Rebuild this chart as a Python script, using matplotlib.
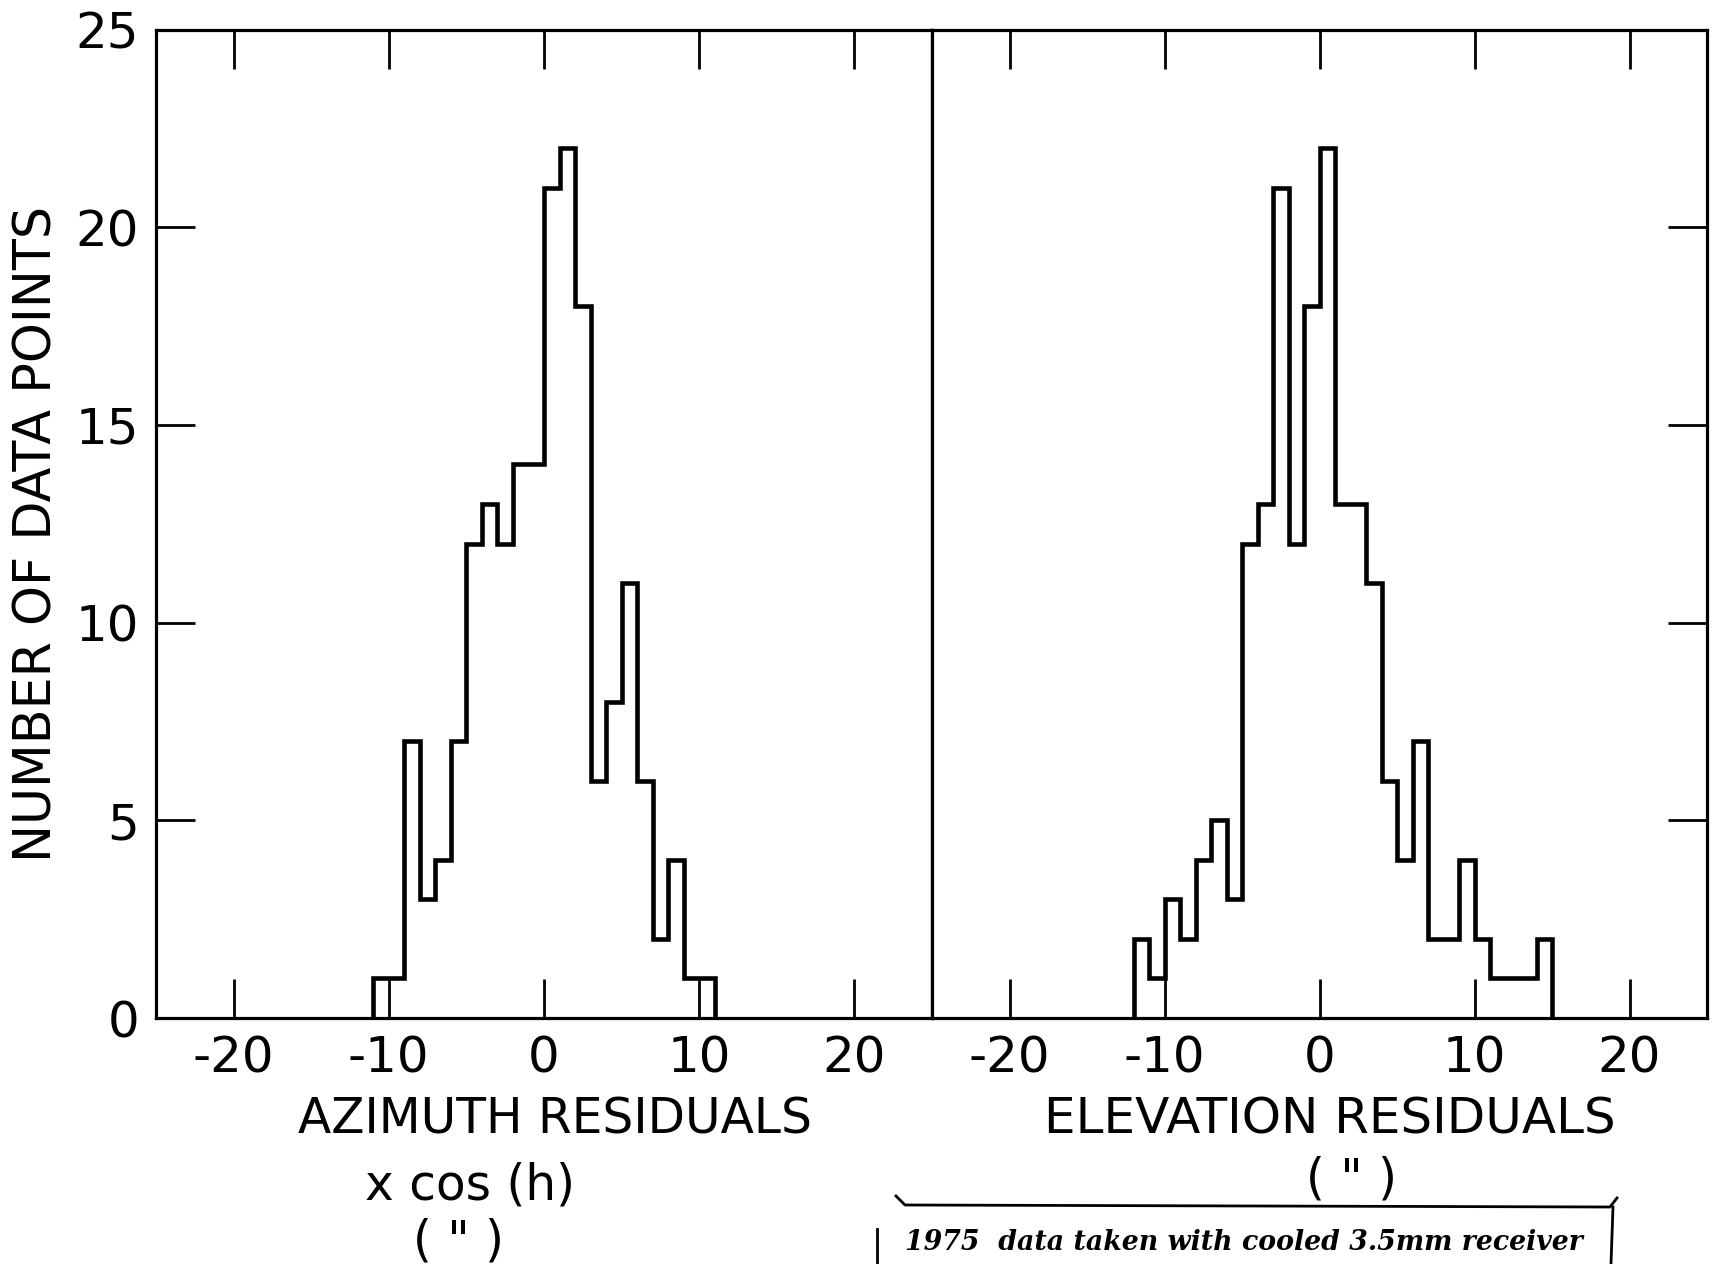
import numpy as np
import matplotlib
matplotlib.use("Agg")
import matplotlib.pyplot as plt
from matplotlib.lines import Line2D

# ---- data (counts per 1-arcsec bin) ----
az_edges = np.arange(-11, 12)          # -11 .. 11
az_counts = [1, 1, 7, 3, 4, 7, 12, 13, 12, 14, 14, 21, 22, 18, 6, 8, 11, 6, 2, 4, 1, 1]
el_edges = np.arange(-12, 16)          # -12 .. 15
el_counts = [2, 1, 3, 2, 4, 5, 3, 12, 13, 21, 12, 18, 22, 13, 13, 11, 6, 4, 7, 2, 2, 4, 2, 1, 1, 1, 2]

x_ticks = [-20, -10, 0, 10, 20]
x_tick_labels = ["-20", "-10", "0", "10", "20"]
y_ticks = [0, 5, 10, 15, 20, 25]
y_tick_labels = ["0", "5", "10", "15", "20", "25"]

plt.rcParams['font.family'] = ['DejaVu Sans']
W, H = 1713, 1264
fig = plt.figure(figsize=(W / 100, H / 100), dpi=100)

L1, R1, R2 = 156 / W, 932 / W, 1707 / W
B, T = 1 - 1018 / H, 1 - 29.5 / H
ax1 = fig.add_axes([L1, B, R1 - L1, T - B])
ax2 = fig.add_axes([R1, B, R2 - R1, T - B])

lw_spine = 2.3
for ax, edges, counts in ((ax1, az_edges, az_counts), (ax2, el_edges, el_counts)):
    ax.stairs(counts, edges, baseline=0, color='black', linewidth=3.3, joinstyle='miter')
    ax.set_xlim(-25, 25)
    ax.set_ylim(0, 25)
    for s in ax.spines.values():
        s.set_linewidth(lw_spine)
    ax.set_xticks(x_ticks)
    ax.set_xticklabels(x_tick_labels, fontsize=36)
    ax.tick_params(axis='x', which='both', direction='in', top=True, bottom=True,
                   length=28, width=2.0, pad=12)
    ax.set_yticks(y_ticks)

ax1.set_yticklabels(y_tick_labels, fontsize=36)
ax1.tick_params(axis='y', direction='in', left=True, right=False, length=28, width=2.0, pad=12)
ax2.tick_params(axis='y', direction='in', left=False, right=True, labelleft=False,
                labelright=False, length=28, width=2.0)

# axis labels
fig.text(38 / W, 1 - 534 / H, "NUMBER OF DATA POINTS", rotation=90, fontsize=36.5,
         ha='center', va='center')
fig.text(555 / W, 1 - 1120 / H, "AZIMUTH RESIDUALS", fontsize=35, ha='center', va='center')
fig.text(470 / W, 1 - 1185 / H, "x cos (h)", fontsize=35, ha='center', va='center')
fig.text(459 / W, 1 - 1242 / H, '( " )', fontsize=35, ha='center', va='center')
fig.text(1330 / W, 1 - 1120 / H, "ELEVATION RESIDUALS", fontsize=36, ha='center', va='center')
fig.text(1352 / W, 1 - 1180 / H, '( " )', fontsize=35, ha='center', va='center')

# handwritten note box
fig.add_artist(Line2D([896 / W, 905 / W, 1610 / W, 1617 / W],
                      [1 - 1196 / H, 1 - 1205 / H, 1 - 1207 / H, 1 - 1198 / H],
                      color='black', linewidth=2.0, transform=fig.transFigure))
fig.add_artist(Line2D([877 / W, 877 / W], [1 - 1229 / H, 0], color='black',
                      linewidth=2.0, transform=fig.transFigure))
fig.add_artist(Line2D([1613 / W, 1611 / W], [1 - 1207 / H, 0], color='black',
                      linewidth=2.0, transform=fig.transFigure))
fig.text(905 / W, 1 - 1242 / H, "1975  data taken with cooled 3.5mm receiver",
         fontsize=19.3, style='italic', fontweight='bold', family='DejaVu Serif',
         ha='left', va='center')

fig.savefig("out.png", dpi=100)
